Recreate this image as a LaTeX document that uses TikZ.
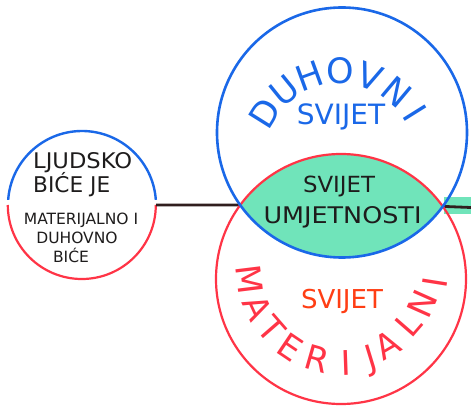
\documentclass[tikz,border=0pt]{standalone}
\usepackage{fontspec}
\setmainfont{DejaVu Sans}
\usetikzlibrary{calc}

\definecolor{duhblue}{RGB}{26,104,232}
\definecolor{matred}{RGB}{255,52,70}
\definecolor{matorange}{RGB}{255,62,20}
\definecolor{lensgreen}{RGB}{112,228,186}
\definecolor{inkdark}{RGB}{30,28,28}
\definecolor{linkdark}{RGB}{48,30,30}

\begin{document}
\begin{tikzpicture}[x=1pt,y=1pt,
  bigring/.style={circle, draw, minimum size=250pt, inner sep=0pt},
  smallring/.style={circle, minimum size=148pt, inner sep=0pt},
  link/.style={draw=linkdark, line width=2.8pt},
  inktext/.style={text=inkdark, inner sep=0pt},
  arcletter/.style={inner sep=0pt, text depth=0pt, anchor=center},
  fs/.style={font=\fontsize{#1pt}{#1pt}\selectfont}]

\useasboundingbox (0,0) rectangle (471,410);
\fill[white] (0,0) rectangle (471,410);

% centres of the two large circles
\coordinate (blueC) at (342,277.5);
\coordinate (redC) at (341,131);

% shared region of the two worlds
\begin{scope}
  \clip (blueC) circle[radius=125];
  \fill[lensgreen] (redC) circle[radius=125];
\end{scope}

% crossing points of the two circles and the right edge
\coordinate (lensL) at (240.2,204.9);
\coordinate (lensR) at (442.8,203.6);
\coordinate (edgeR) at (471,202.5);

% small circle: the human being
\node[smallring] (person) at (82,205) {};
\draw[duhblue, line width=2.4pt] ([shift={(4:74)}]person.center)
  arc[start angle=4, end angle=176, radius=74];
\draw[matred, line width=2.2pt] (person.west)
  arc[start angle=180, end angle=360, radius=74];

% connectors
\fill[lensgreen] (444,195.5) rectangle (471,212.5);
\draw[link] (person.east) -- (lensL);
\draw[link] (lensR) -- (edgeR);

% the two large circles
\node[bigring, draw=matred, line width=2.2pt] (mat) at (redC) {};
\node[bigring, draw=duhblue, line width=2.6pt] (duh) at (blueC) {};

% text of the small circle
\node[inktext, fs=22, anchor=base west] (t1) at (33,241) {\resizebox{99pt}{16pt}{LJUDSKO}};
\node[inktext, fs=22, anchor=base west] (t2) at (33,217) {\resizebox{77pt}{!}{BIĆE JE}};
\node[inktext, fs=15.5, anchor=base] (t3) at (81,185) {MATERIJALNO I};
\node[inktext, fs=15.5, anchor=base] (t4) at (77,167) {DUHOVNO};
\node[inktext, fs=15.5, anchor=base] (t5) at (71,147) {BIĆE};

% text of the shared region
\node[inktext, fs=23, anchor=base] (art1) at (339,217) {\resizebox{72pt}{16.5pt}{SVIJET}};
\node[inktext, fs=24, anchor=base] (art2) at (342.5,186) {\resizebox{158pt}{17pt}{UMJETNOSTI}};

% spiritual world
\node[inner sep=0pt, text=duhblue, fs=28, anchor=base] (sv1) at (341,285) {SVIJET};
\foreach \ch/\a in {D/148,U/129,H/110,O/90,V/70,N/50,I/32}
  \node[arcletter, text=duhblue, fs=35, rotate=\a-90]
    at ($(340,250)+(\a:89)$) {\ch};

% material world
\node[inner sep=0pt, text=matorange, fs=26, anchor=base] (sv2) at (342,102) {SVIJET};
\foreach \ch/\a/\r in {M/187/94,A/205/94,T/221/94,E/236/95,R/254/95,I/272/95,
                       J/287/93,A/300/89,L/319/86,N/336/87,I/351/93}
  \node[arcletter, text=matred, fs=34, rotate=\a+90]
    at ($(343,142)+(\a:\r)$) {\ch};

\end{tikzpicture}
\end{document}
